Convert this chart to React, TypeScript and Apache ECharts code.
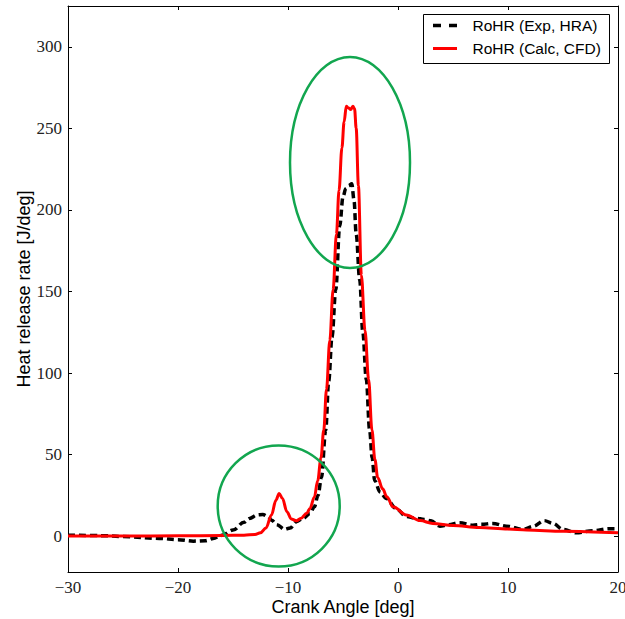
import React, { useEffect, useRef } from "react";
import * as echarts from "echarts";

const xTicks = [-30, -20, -10, 0, 10, 20];
const yTicks = [0, 50, 100, 150, 200, 250, 300];

const expX = [-30, -27, -25, -21.7, -20, -18.6, -17.5, -16.8, -16, -15, -14, -13.5, -12.8, -12.3, -11.8, -11.5, -11, -10.3, -9.8, -9.24, -8.6, -8, -7.6, -7.27, -6.96, -6.57, -6.3, -6, -5.66, -5.3, -5.0, -4.75, -4.45, -4.2, -4.0, -3.8, -3.48, -3.2, -2.88, -2.58, -2.35, -2.12, -1.64, -1.05, -0.2, 0.76, 1.6, 2.4, 3.0, 3.8, 4.6, 5.6, 6.8, 7.6, 8.6, 9.85, 11.4, 12.3, 13.3, 14.1, 15.0, 16.2, 17.7, 19.2, 20];
const expY = [0.6, 0.3, -0.3, -1.4, -2.2, -3.1, -2.8, -1.4, 0.5, 3.7, 8.5, 10.8, 13, 13.3, 12, 9.8, 7, 4.1, 5, 8.8, 11, 13.9, 18, 25, 36, 65, 95, 122, 151, 190, 208, 213, 215, 216, 206, 185, 157, 125, 96, 65, 48, 34, 27, 23, 17, 12, 11, 10.2, 9.4, 6.1, 7, 8.2, 6.7, 7.2, 7.8, 6.1, 4.1, 6, 9.5, 7.8, 4.1, 2, 3.3, 4.5, 4.5];

const cfdX = [-30, -25, -20, -16, -14, -13, -12.5, -12, -11.5, -11.1, -10.8, -10.5, -10.1, -9.7, -9.24, -8.8, -8.3, -8, -7.6, -7.3, -7, -6.75, -6.5, -6.2, -5.9, -5.6, -5.36, -5.1, -4.9, -4.7, -4.5, -4.3, -4.1, -3.95, -3.8, -3.6, -3.33, -3.0, -2.67, -2.37, -2.1, -1.85, -1.4, -1.0, -0.45, 0.76, 2, 3.16, 5, 7.4, 10, 11.7, 15, 20];
const cfdY = [0, 0, 0.2, 0.4, 0.6, 1, 2, 5, 13, 22, 26.2, 23, 15, 10.5, 9.4, 11, 14, 17, 24, 34, 48, 65, 90, 120, 151, 185, 212, 238, 254, 263.5, 262.5, 261.5, 263.5, 262, 250, 215, 160, 126, 96, 65, 47, 36, 29, 24, 18, 13, 9.5, 7.8, 6.5, 5.3, 4.3, 3.7, 3, 2];

const seriesNames = ["RoHR (Exp, HRA)", "RoHR (Calc, CFD)"];

const toPairs = (xs: number[], ys: number[]) => xs.map((x, i) => [x, ys[i]]);
const minus = (v: number) => String(v).replace("-", "\u2212");

export default function App() {
  const ref = useRef<HTMLDivElement>(null);
  useEffect(() => {
    document.body.style.margin = "0";
    const chart = echarts.init(ref.current!, null, { renderer: "svg" });
    const tickFont = { fontFamily: "Liberation Serif", fontSize: 17, color: "#222" };
    const axisBase = {
      axisLine: { show: true, onZero: false, lineStyle: { color: "#000", width: 1 } },
      splitLine: { show: false },
    };
    const green = "#12a64f";
    chart.setOption({
      animation: false,
      grid: { left: 68, right: 7, top: 6, bottom: 47, containLabel: false, outerBoundsMode: "none" },
      xAxis: [
        {
          ...axisBase,
          type: "value",
          min: -30,
          max: 20,
          interval: 10,
          position: "bottom",
          name: "Crank Angle [deg]",
          nameLocation: "middle",
          nameGap: 26,
          nameMoveOverlap: false,
          nameTextStyle: { fontFamily: "Liberation Sans", fontSize: 18, color: "#000" },
          axisTick: { inside: true, length: 4, lineStyle: { color: "#000" } },
          axisLabel: { ...tickFont, margin: 7, formatter: (v: number) => minus(v) },
        },
        {
          ...axisBase,
          type: "value",
          min: -30,
          max: 20,
          interval: 10,
          position: "top",
          axisTick: { inside: true, length: 4, lineStyle: { color: "#000" } },
          axisLabel: { show: false },
        },
      ],
      yAxis: [
        {
          ...axisBase,
          type: "value",
          min: -22,
          max: 325,
          position: "left",
          name: "Heat release rate [J/deg]",
          nameLocation: "middle",
          nameGap: 35,
          nameMoveOverlap: false,
          nameTextStyle: { fontFamily: "Liberation Sans", fontSize: 18, color: "#000" },
          axisTick: { inside: true, length: 4, lineStyle: { color: "#000" }, customValues: yTicks },
          axisLabel: { ...tickFont, margin: 6, customValues: yTicks, formatter: (v: number) => minus(v) },
        },
        {
          ...axisBase,
          type: "value",
          min: -22,
          max: 325,
          position: "right",
          axisTick: { inside: true, length: 4, lineStyle: { color: "#000" }, customValues: yTicks },
          axisLabel: { show: false, customValues: yTicks },
        },
      ],
      series: [
        {
          name: seriesNames[0],
          type: "line",
          data: toPairs(expX, expY),
          smooth: 0.35,
          smoothMonotone: "x",
          showSymbol: false,
          lineStyle: { color: "#000", width: 3.5, type: [7, 4] },
          z: 2,
        },
        {
          name: seriesNames[1],
          type: "line",
          data: toPairs(cfdX, cfdY),
          smooth: 0.35,
          smoothMonotone: "x",
          showSymbol: false,
          lineStyle: { color: "#ff0000", width: 3 },
          z: 3,
        },
      ],
      graphic: [
        { type: "ellipse", shape: { cx: 350, cy: 162.5, rx: 60, ry: 105.5 }, style: { fill: "none", stroke: green, lineWidth: 2.5 }, z: 10 },
        { type: "ellipse", shape: { cx: 278.7, cy: 506, rx: 61, ry: 60.5 }, style: { fill: "none", stroke: green, lineWidth: 2.5 }, z: 10 },
        { type: "rect", shape: { x: 423.5, y: 14.5, width: 186, height: 49 }, style: { fill: "#fff", stroke: "#000", lineWidth: 1 }, z: 20 },
        { type: "line", shape: { x1: 433, y1: 25.5, x2: 457, y2: 25.5 }, style: { stroke: "#000", lineWidth: 3.5, lineDash: [8, 8] }, z: 21 },
        { type: "line", shape: { x1: 433, y1: 48.5, x2: 457, y2: 48.5 }, style: { stroke: "#ff0000", lineWidth: 3 }, z: 21 },
        { type: "text", x: 472.5, y: 25.5, style: { text: seriesNames[0], font: "15.5px 'Liberation Sans'", fill: "#000", textVerticalAlign: "middle" }, z: 21 },
        { type: "text", x: 472.5, y: 48.5, style: { text: seriesNames[1], font: "15.5px 'Liberation Sans'", fill: "#000", textVerticalAlign: "middle" }, z: 21 },
      ],
    });
    return () => chart.dispose();
  }, []);
  return <div ref={ref} style={{ width: 625, height: 619 }} />;
}
